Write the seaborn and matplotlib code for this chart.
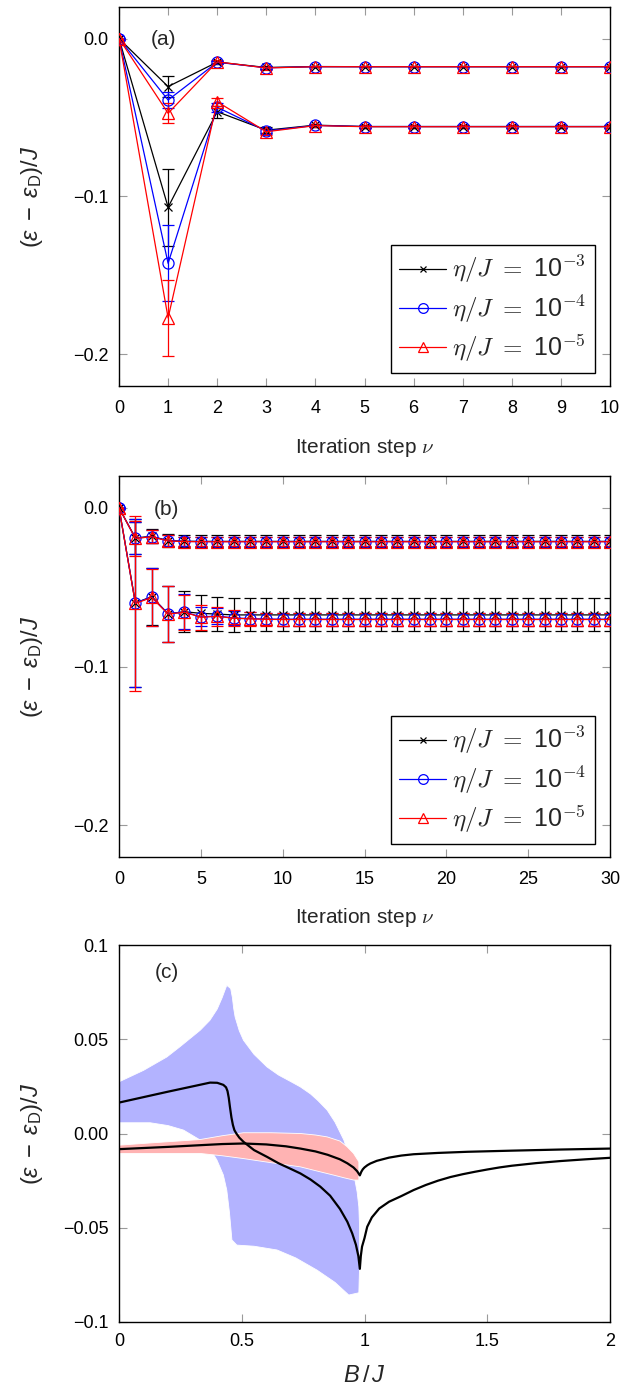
import numpy as np
import matplotlib
matplotlib.use("Agg")
import matplotlib.pyplot as plt
from matplotlib.lines import Line2D
from matplotlib.font_manager import FontProperties
import seaborn as sns

# ---------------- data ----------------
# panel (a): iteration steps 0..10
steps_a = [0, 1, 2, 3, 4, 5, 6, 7, 8, 9, 10]
a_up_k = [0.0, -0.0304, -0.0149, -0.0183, -0.0177, -0.0178, -0.0178, -0.0178, -0.0178, -0.0178, -0.0178]
a_up_b = [0.0, -0.0389, -0.0150, -0.0185, -0.0178, -0.0178, -0.0178, -0.0178, -0.0178, -0.0178, -0.0178]
a_up_r = [0.0, -0.0473, -0.0147, -0.0186, -0.0178, -0.0178, -0.0178, -0.0178, -0.0178, -0.0178, -0.0178]
a_up_k_err = [0.0, 0.0064, 0.001, 0.001, 0.0005, 0.0005, 0.0005, 0.0005, 0.0005, 0.0005, 0.0005]
a_up_b_err = [0.0, 0.0050, 0.001, 0.001, 0.0005, 0.0005, 0.0005, 0.0005, 0.0005, 0.0005, 0.0005]
a_up_r_err = [0.0, 0.0064, 0.001, 0.001, 0.0005, 0.0005, 0.0005, 0.0005, 0.0005, 0.0005, 0.0005]
a_lo_k = [0.0, -0.1068, -0.0463, -0.0580, -0.0548, -0.0557, -0.0557, -0.0557, -0.0557, -0.0557, -0.0557]
a_lo_b = [0.0, -0.1423, -0.0435, -0.0585, -0.0550, -0.0557, -0.0557, -0.0557, -0.0557, -0.0557, -0.0557]
a_lo_r = [0.0, -0.1769, -0.0400, -0.0590, -0.0551, -0.0558, -0.0558, -0.0558, -0.0558, -0.0558, -0.0558]
a_lo_k_err = [0.0, 0.0245, 0.0037, 0.002, 0.001, 0.0008, 0.0008, 0.0008, 0.0008, 0.0008, 0.0008]
a_lo_b_err = [0.0, 0.0240, 0.0030, 0.002, 0.001, 0.0008, 0.0008, 0.0008, 0.0008, 0.0008, 0.0008]
a_lo_r_err = [0.0, 0.0240, 0.0025, 0.002, 0.001, 0.0008, 0.0008, 0.0008, 0.0008, 0.0008, 0.0008]

# panel (b): iteration steps 0..30
steps_b = [0, 1, 2, 3, 4, 5, 6, 7, 8, 9, 10, 11, 12, 13, 14, 15, 16, 17, 18, 19, 20,
           21, 22, 23, 24, 25, 26, 27, 28, 29, 30]
b_up_k = [0.0, -0.0190, -0.0180, -0.0207, -0.0211, -0.0212, -0.0212, -0.0212, -0.0212, -0.0212, -0.0212,
          -0.0212, -0.0212, -0.0212, -0.0212, -0.0212, -0.0212, -0.0212, -0.0212, -0.0212, -0.0212,
          -0.0212, -0.0212, -0.0212, -0.0212, -0.0212, -0.0212, -0.0212, -0.0212, -0.0212, -0.0212]
b_up_b = [0.0, -0.0192, -0.0182, -0.0208, -0.0212, -0.0213, -0.0213, -0.0213, -0.0213, -0.0213, -0.0213,
          -0.0213, -0.0213, -0.0213, -0.0213, -0.0213, -0.0213, -0.0213, -0.0213, -0.0213, -0.0213,
          -0.0213, -0.0213, -0.0213, -0.0213, -0.0213, -0.0213, -0.0213, -0.0213, -0.0213, -0.0213]
b_up_r = [0.0, -0.0193, -0.0183, -0.0209, -0.0213, -0.0214, -0.0214, -0.0214, -0.0214, -0.0214, -0.0214,
          -0.0214, -0.0214, -0.0214, -0.0214, -0.0214, -0.0214, -0.0214, -0.0214, -0.0214, -0.0214,
          -0.0214, -0.0214, -0.0214, -0.0214, -0.0214, -0.0214, -0.0214, -0.0214, -0.0214, -0.0214]
b_up_k_err = [0.0, 0.010, 0.0045, 0.0040, 0.0038, 0.0038, 0.0038, 0.0038, 0.0038, 0.0038, 0.0038,
              0.0038, 0.0038, 0.0038, 0.0038, 0.0038, 0.0038, 0.0038, 0.0038, 0.0038, 0.0038,
              0.0038, 0.0038, 0.0038, 0.0038, 0.0038, 0.0038, 0.0038, 0.0038, 0.0038, 0.0038]
b_up_b_err = [0.0, 0.010, 0.0042, 0.0035, 0.0030, 0.0030, 0.0030, 0.0030, 0.0030, 0.0030, 0.0030,
              0.0030, 0.0030, 0.0030, 0.0030, 0.0030, 0.0030, 0.0030, 0.0030, 0.0030, 0.0030,
              0.0030, 0.0030, 0.0030, 0.0030, 0.0030, 0.0030, 0.0030, 0.0030, 0.0030, 0.0030]
b_up_r_err = [0.0, 0.011, 0.0042, 0.0035, 0.0030, 0.0030, 0.0030, 0.0030, 0.0030, 0.0030, 0.0030,
              0.0030, 0.0030, 0.0030, 0.0030, 0.0030, 0.0030, 0.0030, 0.0030, 0.0030, 0.0030,
              0.0030, 0.0030, 0.0030, 0.0030, 0.0030, 0.0030, 0.0030, 0.0030, 0.0030, 0.0030]
b_lo_k = [0.0, -0.0600, -0.0560, -0.0668, -0.0655, -0.0665, -0.0670, -0.0675, -0.0675, -0.0675, -0.0675,
          -0.0675, -0.0675, -0.0675, -0.0675, -0.0675, -0.0675, -0.0675, -0.0675, -0.0675, -0.0675,
          -0.0675, -0.0675, -0.0675, -0.0675, -0.0675, -0.0675, -0.0675, -0.0675, -0.0675, -0.0675]
b_lo_b = [0.0, -0.0600, -0.0562, -0.0668, -0.0656, -0.0688, -0.0682, -0.0694, -0.0698, -0.0701, -0.0702,
          -0.0702, -0.0702, -0.0702, -0.0702, -0.0702, -0.0702, -0.0702, -0.0702, -0.0702, -0.0702,
          -0.0702, -0.0702, -0.0702, -0.0702, -0.0702, -0.0702, -0.0702, -0.0702, -0.0702, -0.0702]
b_lo_r = [0.0, -0.0603, -0.0565, -0.0670, -0.0658, -0.0690, -0.0684, -0.0696, -0.0700, -0.0703, -0.0704,
          -0.0704, -0.0704, -0.0704, -0.0704, -0.0704, -0.0704, -0.0704, -0.0704, -0.0704, -0.0704,
          -0.0704, -0.0704, -0.0704, -0.0704, -0.0704, -0.0704, -0.0704, -0.0704, -0.0704, -0.0704]
b_lo_k_err = [0.0, 0.053, 0.018, 0.0177, 0.0130, 0.0114, 0.0109, 0.0106, 0.0104, 0.0104, 0.0104,
              0.0104, 0.0104, 0.0104, 0.0104, 0.0104, 0.0104, 0.0104, 0.0104, 0.0104, 0.0104,
              0.0104, 0.0104, 0.0104, 0.0104, 0.0104, 0.0104, 0.0104, 0.0104, 0.0104, 0.0104]
b_lo_b_err = [0.0, 0.053, 0.018, 0.0177, 0.0110, 0.0060, 0.0050, 0.0045, 0.0040, 0.0040, 0.0040,
              0.0040, 0.0040, 0.0040, 0.0040, 0.0040, 0.0040, 0.0040, 0.0040, 0.0040, 0.0040,
              0.0040, 0.0040, 0.0040, 0.0040, 0.0040, 0.0040, 0.0040, 0.0040, 0.0040, 0.0040]
b_lo_r_err = [0.0, 0.055, 0.018, 0.0177, 0.0110, 0.0080, 0.0060, 0.0050, 0.0042, 0.0040, 0.0040,
              0.0040, 0.0040, 0.0040, 0.0040, 0.0040, 0.0040, 0.0040, 0.0040, 0.0040, 0.0040,
              0.0040, 0.0040, 0.0040, 0.0040, 0.0040, 0.0040, 0.0040, 0.0040, 0.0040, 0.0040]

# panel (c): B/J
curveA_x = [0.0, 0.1, 0.2, 0.3, 0.371, 0.40, 0.425, 0.436, 0.442, 0.447, 0.452, 0.458, 0.464, 0.470,
            0.478, 0.490, 0.507, 0.55, 0.603, 0.65, 0.70, 0.739, 0.78, 0.82, 0.86, 0.90, 0.93, 0.95,
            0.965, 0.975, 0.981, 0.985, 0.990, 1.0, 1.011, 1.03, 1.06, 1.10, 1.15, 1.2, 1.25, 1.3,
            1.35, 1.4, 1.45, 1.5, 1.55, 1.6, 1.7, 1.8, 1.9, 2.0]
curveA_y = [0.0164, 0.0193, 0.0222, 0.0250, 0.0270, 0.0269, 0.0258, 0.0245, 0.0225, 0.0190, 0.0140,
            0.0085, 0.0045, 0.0018, 0.0000, -0.0022, -0.0044, -0.0088, -0.0124, -0.0158, -0.0188,
            -0.0212, -0.0244, -0.0282, -0.0330, -0.0400, -0.0468, -0.0530, -0.0590, -0.0650, -0.0718,
            -0.0650, -0.0600, -0.0555, -0.0495, -0.0445, -0.0398, -0.0362, -0.0332, -0.0300, -0.0273,
            -0.0250, -0.0231, -0.0216, -0.0203, -0.0191, -0.0180, -0.0171, -0.0157, -0.0146, -0.0137, -0.0129]
curveB_x = [0.0, 0.1, 0.2, 0.331, 0.42, 0.507, 0.6, 0.68, 0.739, 0.80, 0.85, 0.90, 0.93, 0.955, 0.970,
            0.981, 0.987, 0.993, 1.0, 1.012, 1.024, 1.05, 1.10, 1.15, 1.2, 1.3, 1.42, 1.6, 1.8, 2.0]
curveB_y = [-0.0083, -0.0077, -0.0071, -0.0062, -0.0056, -0.0053, -0.0058, -0.0068, -0.0080, -0.0095,
            -0.0113, -0.0137, -0.0158, -0.0180, -0.0200, -0.0222, -0.0203, -0.0190, -0.0180, -0.0168,
            -0.0159, -0.0145, -0.0128, -0.0117, -0.0110, -0.0103, -0.0097, -0.0091, -0.0085, -0.0080]
blue_up_x = [0.0, 0.1, 0.195, 0.25, 0.331, 0.37, 0.40, 0.42, 0.439, 0.455, 0.462, 0.467, 0.473, 0.49,
             0.507, 0.55, 0.603, 0.65, 0.70, 0.739, 0.78, 0.81, 0.848, 0.88, 0.916, 0.94, 0.956, 0.970,
             0.977, 0.980]
blue_up_y = [0.0274, 0.0335, 0.0406, 0.0462, 0.0548, 0.0600, 0.0660, 0.0720, 0.0786, 0.0769, 0.0720,
             0.0665, 0.0618, 0.0545, 0.0495, 0.0420, 0.0353, 0.0310, 0.0275, 0.0247, 0.0210, 0.0175,
             0.0124, 0.0060, -0.0035, -0.0130, -0.0212, -0.0310, -0.0389, -0.0500]
blue_lo_x = [0.0, 0.127, 0.2, 0.263, 0.331, 0.37, 0.399, 0.425, 0.439, 0.450, 0.46, 0.48, 0.55, 0.644,
             0.72, 0.807, 0.88, 0.936, 0.977, 0.980]
blue_lo_y = [0.0057, 0.0057, 0.0042, 0.0018, -0.0035, -0.0080, -0.0141, -0.0220, -0.0300, -0.0420,
             -0.0565, -0.0592, -0.0598, -0.0618, -0.0660, -0.0725, -0.0790, -0.0857, -0.0845, -0.0700]
red_up_x = [0.0, 0.15, 0.331, 0.42, 0.507, 0.62, 0.739, 0.80, 0.848, 0.90, 0.929, 0.955, 0.977]
red_up_y = [-0.0062, -0.0048, -0.0032, -0.0012, 0.0004, 0.0004, 0.0000, -0.0008, -0.0018, -0.0040,
            -0.0070, -0.0105, -0.0150]
red_lo_x = [0.0, 0.15, 0.331, 0.42, 0.507, 0.62, 0.739, 0.80, 0.875, 0.92, 0.956, 0.977]
red_lo_y = [-0.0106, -0.0106, -0.0106, -0.0118, -0.0133, -0.0155, -0.0177, -0.0197, -0.0221, -0.0236,
            -0.0247, -0.0247]

legend_labels = [r'$\eta/J\ =$ 10$^{\mathsf{-3}}$', r'$\eta/J\ =$ 10$^{\mathsf{-4}}$',
                 r'$\eta/J\ =$ 10$^{\mathsf{-5}}$']

# ---------------- style ----------------
sns.set_theme(style="ticks")
plt.rcParams['font.family'] = ['Liberation Sans', 'DejaVu Sans']
plt.rcParams['mathtext.fontset'] = 'custom'
plt.rcParams['mathtext.rm'] = 'Liberation Sans'
plt.rcParams['mathtext.it'] = 'Liberation Sans:italic'
plt.rcParams['mathtext.bf'] = 'Liberation Sans:bold'
plt.rcParams['axes.unicode_minus'] = True

FS = 13
W, H = 623, 1387
fig = plt.figure(figsize=(W / 100, H / 100), dpi=100)


def box(top, bottom, left=119, right=610):
    return [left / W, 1 - bottom / H, (right - left) / W, (bottom - top) / H]


ax_a = fig.add_axes(box(7, 386))
ax_b = fig.add_axes(box(476, 857))
ax_c = fig.add_axes(box(945, 1322))

series_style = [('black', 'x'), ('blue', 'o'), ('red', '^')]


def draw_series(ax, x, y, err, color, marker):
    ax.errorbar(x, y, yerr=err, fmt='none', ecolor=color, elinewidth=0.9,
                capsize=4.5, capthick=0.9, zorder=2)
    sns.lineplot(x=x, y=y, ax=ax, color=color, lw=0.9, marker=marker,
                 markersize=8 if marker != 'x' else 6,
                 markerfacecolor='none', markeredgecolor=color, markeredgewidth=0.9,
                 errorbar=None, zorder=3)


for (col, mk), (yu, eu, yl, el) in zip(series_style, [
        (a_up_k, a_up_k_err, a_lo_k, a_lo_k_err),
        (a_up_b, a_up_b_err, a_lo_b, a_lo_b_err),
        (a_up_r, a_up_r_err, a_lo_r, a_lo_r_err)]):
    draw_series(ax_a, steps_a, yu, eu, col, mk)
    draw_series(ax_a, steps_a, yl, el, col, mk)

for (col, mk), (yu, eu, yl, el) in zip(series_style, [
        (b_up_k, b_up_k_err, b_lo_k, b_lo_k_err),
        (b_up_b, b_up_b_err, b_lo_b, b_lo_b_err),
        (b_up_r, b_up_r_err, b_lo_r, b_lo_r_err)]):
    draw_series(ax_b, steps_b, yu, eu, col, mk)
    draw_series(ax_b, steps_b, yl, el, col, mk)

# panel (c) bands and curves
ax_c.fill(list(blue_up_x) + list(blue_lo_x)[::-1], list(blue_up_y) + list(blue_lo_y)[::-1],
          facecolor='#b3b3ff', edgecolor='white', lw=0.6, zorder=1)
ax_c.fill(list(red_up_x) + list(red_lo_x)[::-1], list(red_up_y) + list(red_lo_y)[::-1],
          facecolor='#ffb3b3', edgecolor='white', lw=0.6, zorder=2)
sns.lineplot(x=curveA_x, y=curveA_y, ax=ax_c, color='black', lw=1.6, sort=False, errorbar=None, zorder=3)
sns.lineplot(x=curveB_x, y=curveB_y, ax=ax_c, color='black', lw=1.6, sort=False, errorbar=None, zorder=3)

# ---------------- axes formatting ----------------
ylab = r'$(\varepsilon\;-\;\varepsilon_{\mathrm{D}})/J$'
for ax in (ax_a, ax_b, ax_c):
    for s in ax.spines.values():
        s.set_visible(True)
        s.set_color('black')
        s.set_linewidth(1.0)
    ax.tick_params(direction='in', top=True, right=True, length=6, width=0.8,
                   color='#9a9a9a', labelsize=FS, labelcolor='black')
    ax.tick_params(axis='y', pad=7.5)
    ax.set_ylabel(ylab, fontsize=17)
    ax.yaxis.set_label_coords(-0.15, 0.5)
    ax.grid(False)

ax_a.tick_params(axis='x', pad=10)
ax_b.tick_params(axis='x', pad=10)
ax_c.tick_params(axis='x', pad=8)

ax_a.set_xlim(0, 10)
ax_a.set_ylim(-0.22, 0.02)
ax_a.set_xticks(steps_a)
ax_a.set_yticks([0.0, -0.1, -0.2])
ax_a.set_yticklabels(['0.0', '\u22120.1', '\u22120.2'])
ax_a.set_xlabel(r'Iteration step $\nu$', fontsize=15, math_fontfamily='cm', labelpad=14)

ax_b.set_xlim(0, 30)
ax_b.set_ylim(-0.22, 0.02)
ax_b.set_xticks([0, 5, 10, 15, 20, 25, 30])
ax_b.set_yticks([0.0, -0.1, -0.2])
ax_b.set_yticklabels(['0.0', '\u22120.1', '\u22120.2'])
ax_b.set_xlabel(r'Iteration step $\nu$', fontsize=15, math_fontfamily='cm', labelpad=13)

ax_c.set_xlim(0, 2)
ax_c.set_ylim(-0.1, 0.1)
ax_c.set_xticks([0, 0.5, 1, 1.5, 2])
ax_c.set_xticklabels(['0', '0.5', '1', '1.5', '2'])
ax_c.set_yticks([-0.1, -0.05, 0.0, 0.05, 0.1])
ax_c.set_yticklabels(['\u22120.1', '\u22120.05', '0.00', '0.05', '0.1'])
ax_c.set_xlabel(r'$B\,/\,J$', fontsize=17, labelpad=11)

for ax, lab, pos in ((ax_a, '(a)', (0.091, 0.915)), (ax_b, '(b)', (0.097, 0.913)),
                     (ax_c, '(c)', (0.097, 0.926))):
    ax.text(pos[0], pos[1], lab, transform=ax.transAxes, fontsize=FS + 2,
            ha='center', va='center')

handles = [Line2D([], [], color='black', lw=0.9, marker='x', markersize=5, mfc='none', mew=0.9),
           Line2D([], [], color='blue', lw=0.9, marker='o', markersize=7, mfc='none', mew=0.9),
           Line2D([], [], color='red', lw=0.9, marker='^', markersize=7, mfc='none', mew=0.9)]
lp = FontProperties(family=['Liberation Sans'], size=18, math_fontfamily='cm')
for ax in (ax_a, ax_b):
    leg = ax.legend(handles, legend_labels, loc='lower right', bbox_to_anchor=(0.969, 0.035),
                    borderaxespad=0.0, prop=lp, frameon=True, fancybox=False, framealpha=1,
                    edgecolor='black', handlelength=1.85, handletextpad=0.25,
                    labelspacing=0.3, borderpad=0.35)
    leg.get_frame().set_linewidth(1.0)

fig.savefig('out.png', dpi=100)
